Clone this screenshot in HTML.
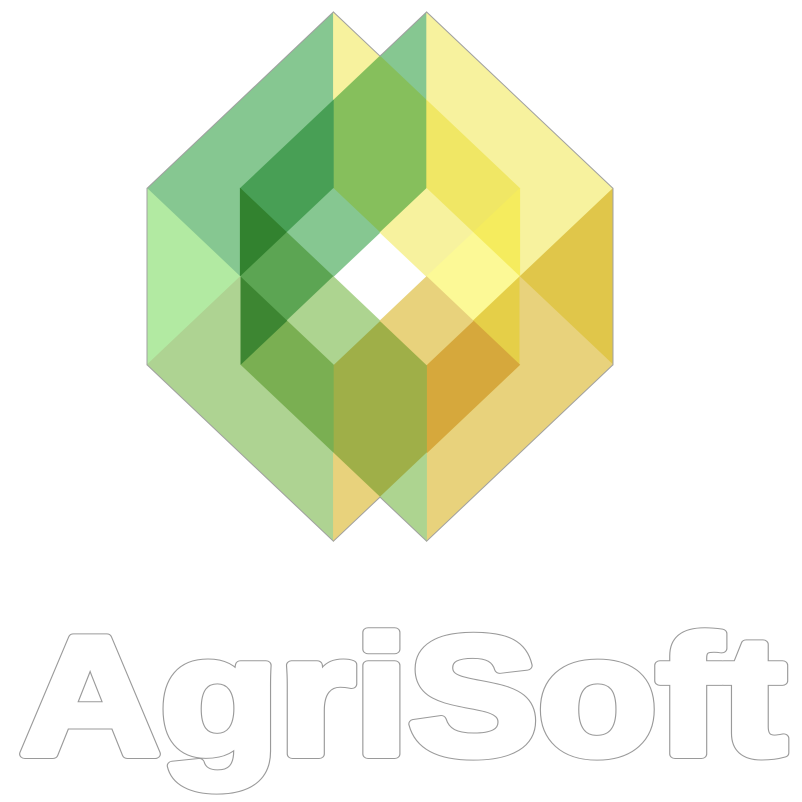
<!DOCTYPE html>
<html><head><meta charset="utf-8"><style>
html,body{margin:0;padding:0;background:#fff;width:802px;height:802px;overflow:hidden}
svg{display:block}
</style></head><body>
<svg id="logo" width="802" height="802" viewBox="0 0 802 802" xmlns="http://www.w3.org/2000/svg">
<g id="mark"></g>
<g font-family="Liberation Sans, sans-serif" font-weight="bold" font-size="168" stroke-linejoin="round">
<text x="20" y="754" textLength="766" lengthAdjust="spacingAndGlyphs" fill="#ffffff" stroke="#9a9a9a" stroke-width="10">AgriSoft</text>
<text x="20" y="754" textLength="766" lengthAdjust="spacingAndGlyphs" fill="#ffffff" stroke="#ffffff" stroke-width="8">AgriSoft</text>
</g>
</svg>
<script>
const regionNames = ["tl-green","top-pale","top-green","center-olive","dark-green","darkest-green","green-diamond","mid-green","tr-pale","yellow","bright-yellow","pale-diamond","light-yellow","ochre","yellow-tri","tan-band","orange","bottom-olive","light-green-diamond","green-lower","dark-green-lower","light-green-left","sage-band","bottom-tan","bottom-green","tan-diamond"];
const regionColors = ["#86c791","#f7f29e","#86c791","#86bf5c","#489f55","#32822f","#86c791","#5ca553","#f7f29e","#f0e765","#f5ec5e","#f7f29e","#fcf996","#e0c64a","#e5cf48","#e8d27c","#d6a83c","#9faf48","#add490","#7aaf52","#3d8632","#b2eaa2","#aed392","#e8d27c","#add490","#e8d27c"];
const regionPts = [
 [[0,4],[4,0],[4,2],[2,4],[2,6]],
 [[4,0],[5,1],[4,2]],
 [[5,1],[6,0],[6,2]],
 [[4,2],[5,1],[6,2],[6,4],[5,5],[4,4]],
 [[2,4],[4,2],[4,4],[3,5]],
 [[2,4],[3,5],[2,6]],
 [[3,5],[4,4],[5,5],[4,6]],
 [[2,6],[3,5],[4,6],[3,7]],
 [[6,0],[10,4],[8,6],[8,4],[6,2]],
 [[6,2],[8,4],[7,5],[6,4]],
 [[7,5],[8,4],[8,6]],
 [[5,5],[6,4],[7,5],[6,6]],
 [[6,6],[7,5],[8,6],[7,7]],
 [[8,6],[10,4],[10,8]],
 [[7,7],[8,6],[8,8]],
 [[8,6],[10,8],[6,12],[6,10],[8,8]],
 [[6,8],[7,7],[8,8],[6,10]],
 [[4,8],[5,7],[6,8],[6,10],[5,11],[4,10]],
 [[3,7],[4,6],[5,7],[4,8]],
 [[2,8],[3,7],[4,8],[4,10]],
 [[2,6],[3,7],[2,8]],
 [[0,4],[2,6],[0,8]],
 [[0,8],[2,6],[2,8],[4,10],[4,12]],
 [[4,10],[5,11],[4,12]],
 [[5,11],[6,10],[6,12]],
 [[5,7],[6,6],[7,7],[6,8]]
];
const outlinePts = [[0,4],[4,0],[5,1],[6,0],[10,4],[10,8],[6,12],[5,11],[4,12],[0,8]];
function gx(i){return 147+i*46.6;}
function gy(j){return 12+j*44.1;}
const NS="http://www.w3.org/2000/svg";
const g=document.getElementById('mark');
regionPts.forEach((pts,k)=>{
  const p=document.createElementNS(NS,'polygon');
  p.setAttribute('points',pts.map(q=>gx(q[0]).toFixed(1)+','+gy(q[1]).toFixed(1)).join(' '));
  p.setAttribute('fill',regionColors[k]);
  p.setAttribute('stroke',regionColors[k]);
  p.setAttribute('stroke-width','0.6');
  
  
  g.appendChild(p);
});
const o=document.createElementNS(NS,'polygon');
o.setAttribute('points',outlinePts.map(q=>gx(q[0]).toFixed(1)+','+gy(q[1]).toFixed(1)).join(' '));
o.setAttribute('fill','none');
o.setAttribute('stroke','#a0a0a0');
o.setAttribute('stroke-width','1');


g.appendChild(o);
</script>
</body></html>
